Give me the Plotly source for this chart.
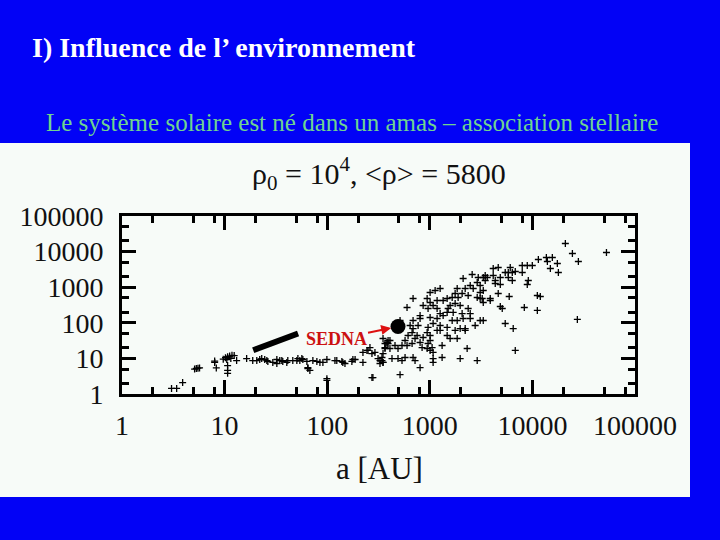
import math
import plotly.graph_objects as go

# ---- data: semi-major axis a [AU] and perihelion q [AU] ----
a_vals = [3.04, 3.41, 3.9, 5.1, 5.3, 5.5, 5.7, 8.0, 8.0, 8.3,
          9.7, 10.2, 10.7, 11.2, 11.8, 12.4, 10.5, 11.5, 10.7, 10.7, 10.7,
          13.1, 16.4, 18.8, 22, 25.8, 29.5, 32.3, 36.1, 40.4, 46.2, 51.8, 56.6, 64.8, 67.8,
          72.5, 84.9, 99.3, 124, 142, 178, 223, 244, 279, 327, 350, 383, 409,
          20.6, 23, 24.6, 26.4, 32.3, 34.5, 36.9, 41.3, 50.6, 54.1, 57.9, 63.4, 79.3, 90.8,
          119, 139, 149, 174, 187, 64.8, 99.3, 99.3, 273,
          223, 250, 273, 261, 292, 313, 342, 350, 366, 383, 392, 428, 350, 327,
          350, 392, 366, 366, 409, 458, 490, 536, 574, 614, 672, 687, 752, 804, 861, 942,
          1007, 1007, 962, 1053, 1077, 1178, 1261, 1476, 1578, 1766, 1849, 2213, 2312, 1318,
          342, 490, 536, 574, 687, 718, 804, 1077, 1077, 1318, 1977, 2897, 513, 600, 672,
          718, 841, 942, 1007,
          2588, 2965, 3467, 2113, 2897, 2477, 3097, 2213, 2649, 1849, 3319, 1261, 1127, 1007,
          1766, 2066, 1652, 1888, 2366, 2897, 3097, 1476, 1349, 1178, 1007, 687, 942, 861,
          1077, 1578, 1766, 1977, 2366, 600, 962, 1178, 1510, 1261, 1476, 1690, 2066, 2477,
          804, 1007, 1178, 1349, 687, 804, 1652, 1849, 2113, 2477, 3097, 2767, 1077, 1261,
          1476, 962, 769, 643, 1977, 2213, 3882, 513,
          20950, 24540, 28060, 52700, 13680, 15640, 11430, 13990, 17500, 14960, 17910, 9977,
          8913, 7962, 7962, 6808, 6368, 5821, 5433, 6081, 4645, 4150, 4864, 4150, 3631, 3319,
          3467, 4345, 4345, 4864, 5821, 6368, 9120, 8913, 4645, 3097, 3243, 3319, 3882, 5943,
          11170, 11940, 4864, 5082, 8337, 11170, 3319, 5433, 6501, 27420, 6808]
q_vals = [1.43, 1.43, 2.1, 5.0, 5.2, 5.3, 5.4, 7.7, 8.4, 5.4,
          9.5, 10.5, 11.2, 11.6, 12.2, 12.0, 9.3, 10.0, 6.3, 4.6, 3.8,
          8.7, 9.9, 8.7, 9.3, 8.7, 7.7, 7.2, 8.7, 7.7, 8.7, 9.9, 9.9, 5.2, 4.6,
          8.7, 7.7, 9.3, 8.7, 7.7, 9.3, 7.7, 16.7, 2.9, 8.7, 7.7, 26.2, 31.8,
          8.7, 9.9, 9.3, 8.2, 9.3, 8.7, 8.2, 8.7, 8.7, 8.7, 9.3, 8.2, 8.2, 7.7,
          8.7, 8.2, 7.2, 8.2, 9.3, 5.5, 2.7, 2.4, 2.9,
          14.7, 16.7, 13.7, 20.2, 14.7, 9.9, 8.7, 13.7, 20.2, 28, 26.2, 9.9, 7.7, 7.2,
          36.2, 31.8, 26.2, 19, 19, 23, 19, 23, 31.8, 44, 53, 69, 44, 28, 38.6, 53,
          44, 31.8, 26.2, 20.2, 14.7, 61, 61, 44, 36.2, 61, 36.2, 61, 19, 23,
          10.6, 9.9, 8.7, 10.6, 10.6, 8.7, 5.5, 7.7, 9.9, 10.6, 9.9, 8.7, 3.5, 23, 26.2,
          36.2, 20.2, 19, 16.7,
          2275, 1873, 2130, 1755, 1355, 1117, 1117, 919, 919, 919, 807, 919, 807, 710,
          665, 665, 514, 514, 584, 514, 482, 482, 423, 423, 372, 482, 482, 306,
          306, 306, 348, 306, 252, 269, 252, 252, 252, 182, 195, 195, 182, 182,
          160, 141, 132, 160, 116, 132, 116, 116, 132, 132, 116, 84, 95.5, 84,
          74, 74, 84, 84, 69, 69, 482, 116,
          16900, 8850, 5270, 9440, 6830, 6830, 6000, 5270, 4630, 3350, 2590, 4070,
          4070, 4070, 2590, 2760, 2590, 2590, 2590, 3575, 3575, 3350, 1873, 2130, 1873, 1873,
          1542, 1542, 1270, 1190, 1873, 1542, 1542, 1190, 665, 710, 482, 372, 423, 548,
          584, 548, 287, 252, 269, 222, 116, 95.5, 69, 124, 16.7]

# dense streak of near-circular orbits (endpoints)
streak_a = [19, 52]
streak_q = [17, 50]

sedna_a = [490]
sedna_q = [79]

x_ticks = [1, 10, 100, 1000, 10000, 100000]
y_ticks = [1, 10, 100, 1000, 10000, 100000]
x_tick_text = ["1", "10", "100", "1000", "10000", "100000"]
y_tick_text = ["1", "10", "100", "1000", "10000", "100000"]
x_minor = [m * 10 ** k for k in range(5) for m in (2, 5, 8)]
y_minor = [m * 10 ** k for k in range(5) for m in (2, 5)]

# ---- layout geometry ----
W, H = 720, 540
L, R, T, B = 122, 85, 216, 146
PW, PH = W - L - R, H - T - B


def px(x):
    return (x - L) / PW


def py(y):
    return (H - B - y) / PH


SERIF = "Liberation Serif, Times New Roman, serif"
BLUE = "#0202f6"
PANEL = "#f7fbf8"

fig = go.Figure()
fig.add_trace(go.Scatter(x=streak_a, y=streak_q, mode="lines",
                         line=dict(color="black", width=6), showlegend=False))
fig.add_trace(go.Scatter(x=a_vals, y=q_vals, mode="markers",
                         marker=dict(symbol="cross-thin", size=5, color="black",
                                     line=dict(color="black", width=1.3)),
                         showlegend=False))
fig.add_trace(go.Scatter(x=sedna_a, y=sedna_q, mode="markers",
                         marker=dict(symbol="circle", size=15, color="black"),
                         showlegend=False))

axis_common = dict(type="log", showgrid=False, zeroline=False,
                   showline=True, linecolor="black", linewidth=3, mirror="ticks",
                   ticks="inside", ticklen=14, tickwidth=3, tickcolor="black",
                   tickfont=dict(family=SERIF, size=28, color="#111111"))

fig.update_xaxes(range=[0, 5], tickvals=x_ticks, ticktext=x_tick_text,
                 minor=dict(tickvals=x_minor, ticks="inside", ticklen=7,
                            tickwidth=3, tickcolor="black"),
                 ticklabelstandoff=4, **axis_common)
fig.update_yaxes(range=[0, 5], tickvals=y_ticks, ticktext=y_tick_text,
                 minor=dict(tickvals=y_minor, ticks="inside", ticklen=7,
                            tickwidth=3, tickcolor="black"),
                 ticklabelstandoff=10, **axis_common)

fig.add_shape(type="rect", xref="paper", yref="paper",
              x0=px(0), x1=px(690), y0=py(497), y1=py(143),
              fillcolor=PANEL, line=dict(width=0), layer="below")

annos = [
    dict(x=px(30), y=py(47), text="<b>I) Influence de l\u2019 environnement</b>",
         xanchor="left", font=dict(family=SERIF, size=28, color="white")),
    dict(x=px(44), y=py(123), text="Le système solaire est né dans un amas – association stellaire",
         xanchor="left", font=dict(family=SERIF, size=25, color="#6fd48f")),
    dict(x=px(379), y=py(173),
         text="\u03c1<sub>0</sub> = 10<sup>4</sup>, &lt;\u03c1&gt; = 5800",
         xanchor="center", font=dict(family=SERIF, size=30, color="#111111")),
    dict(x=px(379), y=py(468), text="a [AU]",
         xanchor="center", font=dict(family=SERIF, size=31, color="#111111")),
]
for an in annos:
    an.update(xref="paper", yref="paper", yanchor="middle", showarrow=False)
    fig.add_annotation(**an)

fig.add_annotation(x=math.log10(sedna_a[0]), y=math.log10(sedna_q[0]),
                   xref="x", yref="y", text="<b>SEDNA</b>",
                   font=dict(family=SERIF, size=18, color="#cc1111"),
                   showarrow=True, arrowhead=2, arrowsize=1, arrowwidth=2,
                   arrowcolor="#dd1111", ax=-62, ay=13, standoff=7)

fig.update_layout(width=W, height=H, margin=dict(l=L, r=R, t=T, b=B),
                  paper_bgcolor=BLUE, plot_bgcolor=PANEL, showlegend=False)

fig.write_html("out.html", config={"displayModeBar": False},
               post_script="document.body.style.margin='0';document.body.style.background='" + BLUE + "';")
